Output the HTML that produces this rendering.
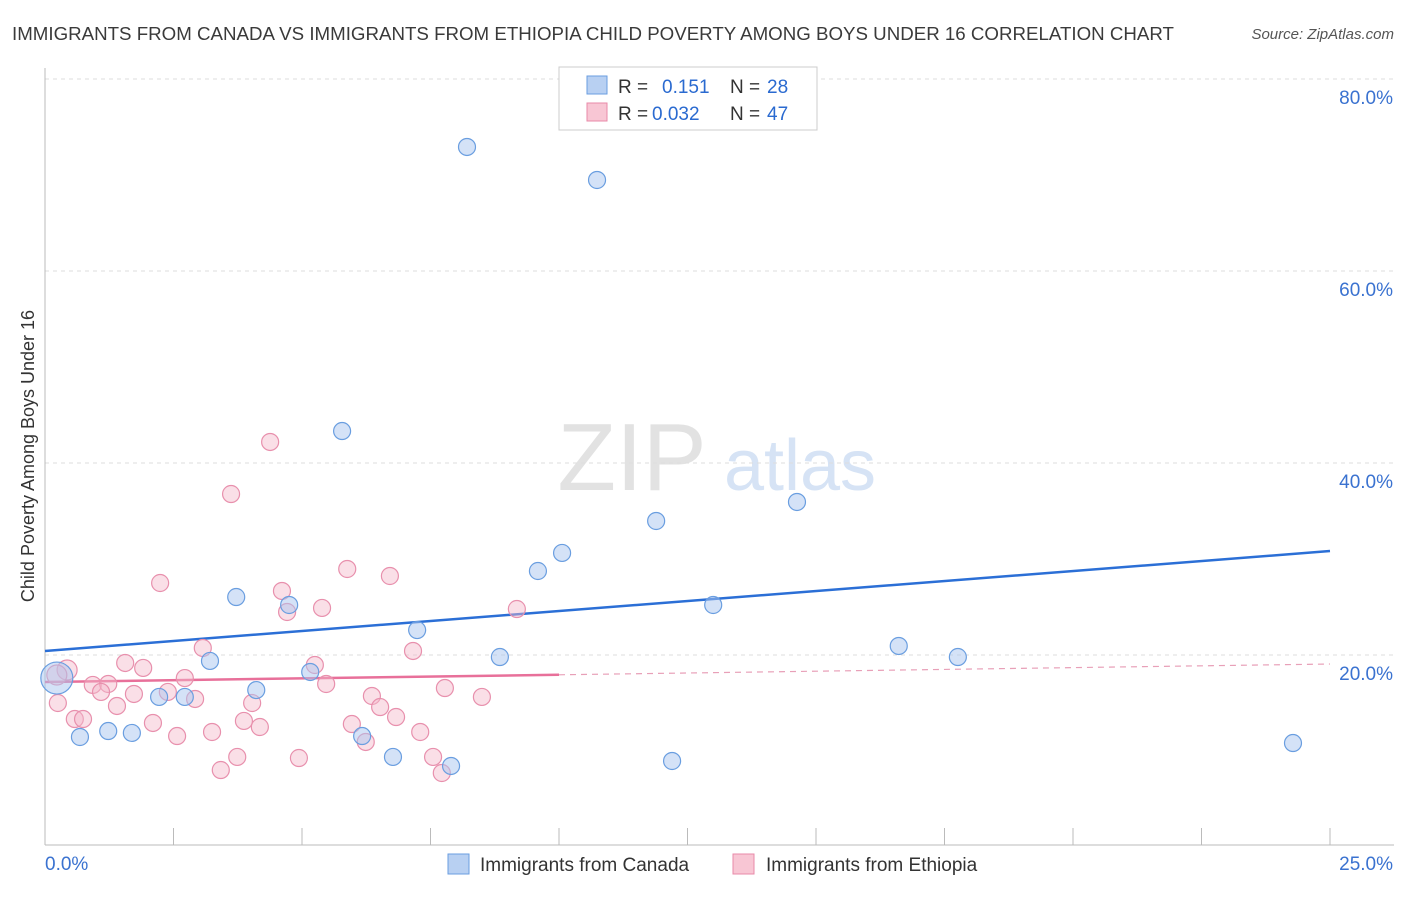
<!DOCTYPE html>
<html><head><meta charset="utf-8"><style>
body{margin:0;background:#fff;font-family:"Liberation Sans",sans-serif;}
svg text{font-family:"Liberation Sans",sans-serif;}
</style></head><body>
<svg id="chart" width="1406" height="892" viewBox="0 0 1406 892" xmlns="http://www.w3.org/2000/svg">
<text x="12" y="40" font-size="18" fill="#3a3a3a" textLength="1162" lengthAdjust="spacingAndGlyphs">IMMIGRANTS FROM CANADA VS IMMIGRANTS FROM ETHIOPIA CHILD POVERTY AMONG BOYS UNDER 16 CORRELATION CHART</text>
<text x="1394" y="39" font-size="15" fill="#555" text-anchor="end" font-style="italic">Source: ZipAtlas.com</text>
<text x="34" y="456" font-size="18" fill="#333" text-anchor="middle" transform="rotate(-90 34 456)">Child Poverty Among Boys Under 16</text>
<g><text x="632" y="490" font-size="96" fill="#e2e2e2" text-anchor="middle" font-family="Liberation Serif">ZIP</text><text x="800" y="490" font-size="72" fill="#d6e3f5" text-anchor="middle">atlas</text></g>
<g id="grid"></g><g id="axes"></g><g id="lines"></g><g id="pts"></g>
<g>
<rect x="559" y="67" width="258" height="63" fill="#fff" stroke="#ccc"/>
<rect x="587" y="76" width="20" height="18" fill="#b8d0f2" stroke="#6a9ee0"/>
<text x="618" y="93" font-size="19" fill="#333">R = </text><text x="662" y="93" font-size="19" fill="#2a6ad0">0.151</text>
<text x="730" y="93" font-size="19" fill="#333">N = </text><text x="767" y="93" font-size="19" fill="#2a6ad0">28</text>
<rect x="587" y="103" width="20" height="18" fill="#f8c6d4" stroke="#e88aa8"/>
<text x="618" y="120" font-size="19" fill="#333">R = </text><text x="652" y="120" font-size="19" fill="#2a6ad0">0.032</text>
<text x="730" y="120" font-size="19" fill="#333">N = </text><text x="767" y="120" font-size="19" fill="#2a6ad0">47</text>
</g>
<g>
<rect x="448" y="854" width="21" height="20" fill="#b8d0f2" stroke="#6a9ee0"/>
<text x="480" y="871" font-size="19" fill="#333">Immigrants from Canada</text>
<rect x="733" y="854" width="21" height="20" fill="#f8c6d4" stroke="#e88aa8"/>
<text x="766" y="871" font-size="19" fill="#333">Immigrants from Ethiopia</text>
</g>
</svg>
<script>
const xTicks=[0,25];
const yTicks=[20,40,60,80];
const canadaX=[8.21,10.74,5.78,14.63,11.89,10.06,9.59,3.72,4.75,13.00,7.24,16.61,17.76,8.85,3.21,5.16,4.11,2.72,2.22,1.23,1.69,0.68,6.17,6.77,7.90,12.20,24.28,0.23];
const canadaY=[72.92,69.48,43.33,35.94,33.96,30.63,28.75,26.04,25.21,25.21,22.60,20.94,19.79,19.79,19.38,18.23,16.35,15.63,15.63,12.08,11.88,11.46,11.56,9.38,8.44,8.96,10.83,17.60];
const ethX=[4.38,3.62,2.24,5.88,6.71,4.61,5.39,4.71,9.18,3.07,7.16,1.56,1.91,5.25,2.72,0.93,1.23,5.47,7.78,1.09,1.73,2.39,2.92,6.36,8.50,0.25,1.40,4.03,6.52,0.58,0.74,2.10,3.87,4.18,6.83,5.97,3.25,7.30,2.57,6.24,3.74,7.55,4.94,3.42,7.72,0.43,0.23];
const ethY=[42.19,36.77,27.50,28.96,28.23,26.67,24.90,24.48,24.79,20.73,20.42,19.17,18.65,18.96,17.60,16.88,16.98,16.98,16.56,16.15,15.94,16.15,15.42,15.73,15.63,15.00,14.69,15.00,14.58,13.33,13.33,12.92,13.13,12.50,13.54,12.81,11.98,11.98,11.56,10.94,9.38,9.38,9.27,8.02,7.71,18.44,17.92];
const canadaTrend=[20.42,30.83];
const ethTrend=[17.19,19.06];
const ethSolidEnd=10;
const X=v=>45+v/25*1285, Y=v=>847-v/20*192;
const NS="http://www.w3.org/2000/svg";
function mk(p,t,a){const e=document.createElementNS(NS,t);for(const k in a)e.setAttribute(k,a[k]);document.getElementById(p).appendChild(e);return e;}
yTicks.forEach(t=>{
 const g=mk('grid','line',{x1:45,x2:1394,y1:Y(t),y2:Y(t),stroke:'#ddd','stroke-dasharray':'4,4'});
 
 
 const l=mk('grid','text',{x:1393,y:Y(t)+25,'font-size':19,fill:'#3a72d0','text-anchor':'end'});l.textContent=t.toFixed(1)+'%';
 
 
});
const ax=mk('axes','line',{x1:45,x2:1394,y1:845,y2:845,stroke:'#bbb'});


const ay=mk('axes','line',{x1:45,x2:45,y1:68,y2:845,stroke:'#bbb'});


for(let i=0;i<=10;i++){const tk=mk('axes','line',{x1:X(i*2.5),x2:X(i*2.5),y1:828,y2:845,stroke:'#bbb'});
 
 }
xTicks.forEach((t,i)=>{const l=mk('axes','text',{x:i?1393:45,y:870,'font-size':19,fill:'#3a72d0','text-anchor':i?'end':'start'});l.textContent=t.toFixed(1)+'%';
 
 });
const cl=mk('lines','line',{x1:X(0),y1:Y(canadaTrend[0]),x2:X(25),y2:Y(canadaTrend[1]),stroke:'#2b6fd6','stroke-width':2.5});


const ey=v=>ethTrend[0]+(ethTrend[1]-ethTrend[0])*v/25;
const el1=mk('lines','line',{x1:X(0),y1:Y(ey(0)),x2:X(ethSolidEnd),y2:Y(ey(ethSolidEnd)),stroke:'#e8709a','stroke-width':2.5});


const el2=mk('lines','line',{x1:X(ethSolidEnd),y1:Y(ey(ethSolidEnd)),x2:X(25),y2:Y(ey(25)),stroke:'#e8a0b8','stroke-width':1.2,'stroke-dasharray':'6,5'});


ethX.forEach((x,i)=>{const c=mk('pts','circle',{cx:X(x),cy:Y(ethY[i]),r:i>=45?10:8.5,fill:'rgba(244,184,202,0.45)',stroke:'#e890ad','stroke-width':1.2});
 
 });
canadaX.forEach((x,i)=>{const c=mk('pts','circle',{cx:X(x),cy:Y(canadaY[i]),r:i==27?16:8.5,fill:'rgba(169,198,239,0.5)',stroke:'#6a9ee0','stroke-width':1.2});
 
 });
</script>
</body></html>
